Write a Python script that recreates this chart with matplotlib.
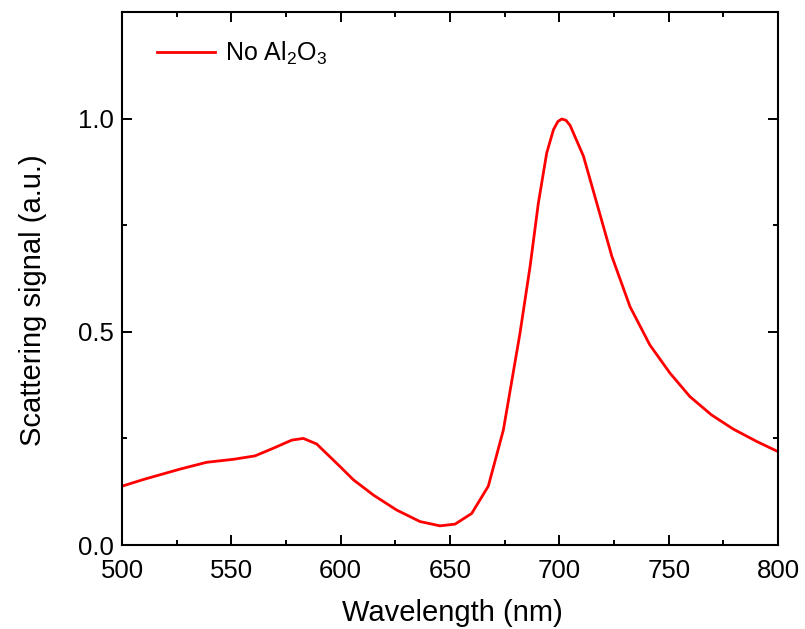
import matplotlib
matplotlib.use('Agg')
import matplotlib.pyplot as plt
from matplotlib.ticker import MultipleLocator, FormatStrFormatter

plt.rcParams['font.family'] = ['Liberation Sans', 'DejaVu Sans']
plt.rcParams['mathtext.default'] = 'regular'

wavelength = [500, 510, 526.5, 538.7, 550.9, 560.8, 569.2, 577.6, 582.9, 589,
              599.7, 605.8, 615, 625.6, 636.3, 645.4, 652.3, 659.9, 667.5,
              674.4, 682, 686.6, 690.4, 694.2, 697.3, 699.3, 701.1, 703.0,
              704.9, 711, 715.6, 724, 732.3, 741.4, 750.6, 759.7, 769.6,
              779.5, 790.2, 800]
signal = [0.138, 0.154, 0.178, 0.194, 0.201, 0.209, 0.227, 0.246, 0.250, 0.237,
          0.184, 0.153, 0.117, 0.082, 0.055, 0.045, 0.049, 0.074, 0.138,
          0.270, 0.497, 0.653, 0.802, 0.919, 0.974, 0.993, 0.999, 0.996,
          0.984, 0.912, 0.829, 0.677, 0.559, 0.469, 0.403, 0.348, 0.305,
          0.272, 0.243, 0.219]

fig = plt.figure(figsize=(8.05, 6.29), dpi=100)
ax = fig.add_axes([0.1516, 0.1335, 0.8149, 0.8475])

ax.plot(wavelength, signal, color='#ff0000', lw=2.0, label='No Al$_2$O$_3$')

ax.set_xlim(500, 800)
ax.set_ylim(0, 1.25)
ax.xaxis.set_major_locator(MultipleLocator(50))
ax.xaxis.set_minor_locator(MultipleLocator(25))
ax.yaxis.set_major_locator(MultipleLocator(0.5))
ax.yaxis.set_minor_locator(MultipleLocator(0.25))
ax.yaxis.set_major_formatter(FormatStrFormatter('%.1f'))

ax.tick_params(which='both', direction='in', top=True, right=True, width=1.4)
ax.tick_params(which='major', length=7, labelsize=18.5)
ax.tick_params(axis='x', which='major', pad=10)
ax.tick_params(axis='y', which='major', pad=6)
ax.tick_params(which='minor', length=3.6)
for s in ax.spines.values():
    s.set_linewidth(1.5)

ax.set_xlabel('Wavelength (nm)', fontsize=21)
ax.set_ylabel('Scattering signal (a.u.)', fontsize=21)
ax.xaxis.set_label_coords(0.503, -0.101)
ax.yaxis.set_label_coords(-0.115, 0.46)

ax.legend(loc='upper left', frameon=False, fontsize=18, handlelength=2.3,
          handletextpad=0.4, borderaxespad=0.6, bbox_to_anchor=(0.0152, 0.9944))

fig.savefig('out.png', dpi=100)
